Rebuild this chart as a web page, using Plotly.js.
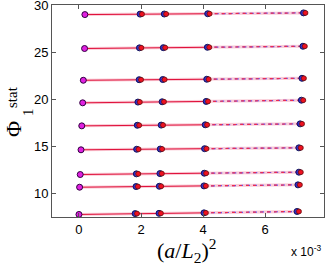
<!DOCTYPE html>
<html><head><meta charset="utf-8">
<script src="https://cdn.plot.ly/plotly-3.0.1.min.js"></script>
<style>html,body{margin:0;padding:0;background:#fff}</style>
</head><body><div id="chart" style="width:327px;height:273px"></div>
<script>
// x in units of 1e-3 : (a/L2)^2 per row (row 1 = top)
const xCont = [0.19,0.18,0.14,0.12,0.09,0.065,0.04,0.02,0.0];
const xPts = [
  [1.97,2.75,4.15,7.24],
  [1.95,2.72,4.14,7.22],
  [1.94,2.70,4.12,7.19],
  [1.90,2.68,4.10,7.17],
  [1.88,2.65,4.07,7.13],
  [1.86,2.62,4.05,7.09],
  [1.85,2.61,4.04,7.09],
  [1.84,2.59,4.03,7.06],
  [1.81,2.58,4.03,7.03]
];
const yCont = [29.04,25.43,22.05,19.65,17.20,14.65,12.02,10.67,7.77];
const yPts = [
  [29.09,29.10,29.13,29.22],
  [25.50,25.52,25.56,25.67],
  [22.11,22.13,22.16,22.26],
  [19.73,19.76,19.80,19.93],
  [17.26,17.28,17.31,17.41],
  [14.71,14.73,14.77,14.86],
  [12.09,12.12,12.16,12.27],
  [10.74,10.77,10.81,10.92],
  [7.86,7.89,7.94,8.09]
];
const errPts = [0.12,0.10,0.10,0.10];
const redShift = 0.06;
const xTicks = [0,2,4,6];
const yTicks = [10,15,20,25,30];

const traces = [];
for (let r = 0; r < yCont.length; r++) {
  const xs = [xCont[r]].concat(xPts[r]);
  const ys = [yCont[r]].concat(yPts[r]);
  traces.push({x: xs, y: ys, mode:'lines', line:{color:'rgba(245,140,165,0.45)', width:3}, hoverinfo:'skip'});
  traces.push({x: xs.slice(0,4), y: ys.slice(0,4), mode:'lines', line:{color:'#e0103a', width:1}, hoverinfo:'skip'});
  traces.push({x: xs.slice(3), y: ys.slice(3), mode:'lines', line:{color:'rgba(60,60,255,0.85)', width:1.2, dash:'4px,3px'}, hoverinfo:'skip'});
  traces.push({x: xs.slice(3), y: ys.slice(3), mode:'lines', line:{color:'rgba(255,40,60,0.9)', width:1.2, dash:'3px,4px'}, hoverinfo:'skip'});
  traces.push({x: xPts[r], y: yPts[r], mode:'markers',
    marker:{color:'#2a2ad0', size:6, symbol:'circle', line:{color:'#15155a', width:1}},
    error_y:{type:'data', array:errPts, color:'rgba(110,110,255,0.5)', thickness:1, width:3}, hoverinfo:'skip'});
  traces.push({x: xPts[r].map(v=>v+redShift), y: yPts[r], mode:'markers',
    marker:{color:'#f01020', size:5, symbol:'circle', line:{color:'#601010', width:0.8}},
    error_y:{type:'data', array:errPts, color:'rgba(255,110,110,0.5)', thickness:1, width:3}, hoverinfo:'skip'});
  traces.push({x:[xCont[r]], y:[yCont[r]], mode:'markers',
    marker:{color:'#e020e0', size:6, symbol:'circle', line:{color:'#300040', width:1}}, hoverinfo:'skip'});
}

const layout = {
  width:327, height:273, showlegend:false,
  paper_bgcolor:'#fff', plot_bgcolor:'#fff',
  margin:{l:52, r:3, t:5, b:56},
  font:{family:'Liberation Sans, Arial, sans-serif', size:13, color:'#000'},
  xaxis:{range:[-0.87,7.9], tickvals:xTicks, ticktext:xTicks.map(String), ticks:'inside', ticklen:4,
    showline:true, mirror:'ticks', linecolor:'#555', tickcolor:'#555', showgrid:false, zeroline:false,
    tickfont:{size:13}},
  yaxis:{range:[7.5,30.06], tickvals:yTicks, ticktext:yTicks.map(String), ticks:'inside', ticklen:4,
    showline:true, mirror:'ticks', linecolor:'#555', tickcolor:'#555', showgrid:false, zeroline:false,
    ticklabeloverflow:'allow', tickfont:{size:13}},
  annotations:[
    {xref:'paper', yref:'paper', x:(186-52)/272, y:(273-250-56)/212, xanchor:'center', yanchor:'middle', showarrow:false,
     text:'(<i>a</i>/<i>L</i><sub>2</sub>)<sup>2</sup>', font:{family:'Liberation Serif, serif', size:22, color:'#000'}},
    {xref:'paper', yref:'paper', x:(306-52)/272, y:(273-251-56)/212, xanchor:'center', yanchor:'middle', showarrow:false,
     text:'x 10<sup>-3</sup>', font:{family:'Liberation Sans, Arial, sans-serif', size:12, color:'#000'}},
    {xref:'paper', yref:'paper', x:(13-52)/272, y:(273-129-56)/212, xanchor:'center', yanchor:'middle', showarrow:false,
     textangle:-90, text:'Φ', font:{family:'Liberation Serif, serif', size:22, color:'#000'}},
    {xref:'paper', yref:'paper', x:(12-52)/272, y:(273-97-56)/212, xanchor:'center', yanchor:'middle', showarrow:false,
     textangle:-90, text:'stat', font:{family:'Liberation Serif, serif', size:15, color:'#000'}},
    {xref:'paper', yref:'paper', x:(28-52)/272, y:(273-112-56)/212, xanchor:'center', yanchor:'middle', showarrow:false,
     textangle:-90, text:'1', font:{family:'Liberation Serif, serif', size:15, color:'#000'}}
  ]
};
Plotly.newPlot('chart', traces, layout, {displayModeBar:false, staticPlot:true});
</script></body></html>
